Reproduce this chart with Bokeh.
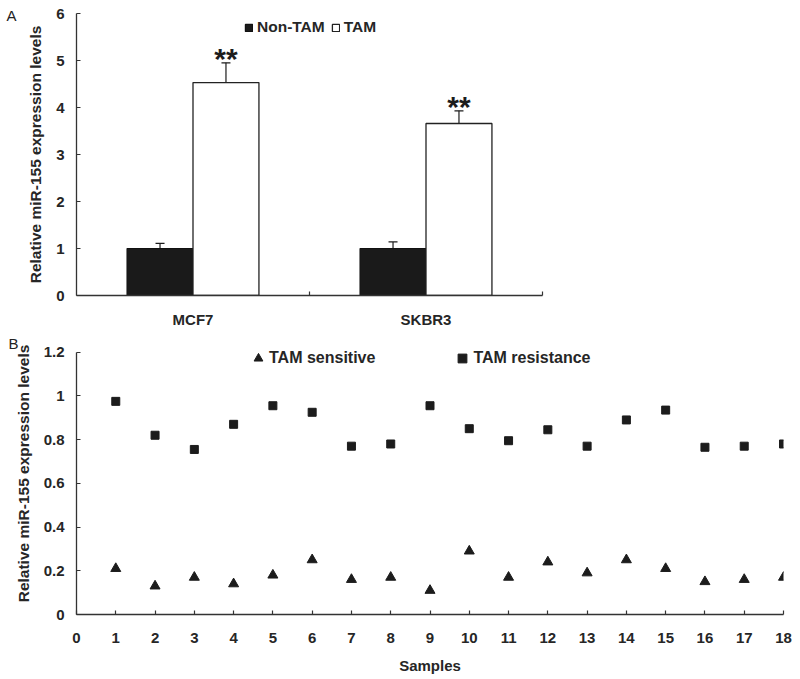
from bokeh.plotting import figure
from bokeh.models import (Range1d, FixedTicker, Whisker, TeeHead, ColumnDataSource,
                          Legend, LegendItem, NumeralTickFormatter, LinearAxis)
from bokeh.layouts import column
from bokeh.embed import file_html
from bokeh.resources import INLINE
from bokeh.core.properties import value

# ---------------- data: panel A ----------------
cell_lines = ["MCF7", "SKBR3"]
non_tam_mean = [1.00, 1.00]
non_tam_err = [0.11, 0.14]
tam_mean = [4.53, 3.66]
tam_err = [0.42, 0.27]
significance = ["**", "**"]
y_ticks_a = [0, 1, 2, 3, 4, 5, 6]

# ---------------- data: panel B ----------------
samples = list(range(1, 19))
tam_sensitive = [0.21, 0.13, 0.17, 0.14, 0.18, 0.25, 0.16, 0.17, 0.11,
                 0.29, 0.17, 0.24, 0.19, 0.25, 0.21, 0.15, 0.16, 0.17]
tam_resistance = [0.975, 0.82, 0.755, 0.87, 0.955, 0.925, 0.77, 0.78, 0.955,
                  0.85, 0.795, 0.845, 0.77, 0.89, 0.935, 0.765, 0.77, 0.78]
x_ticks_b = list(range(0, 19))
y_ticks_b = [0, 0.2, 0.4, 0.6, 0.8, 1.0, 1.2]

panel_letters = ["A", "B"]

FONT = "Liberation Sans"
INK = "#1c1c1c"
AXC = "#333333"
YLABEL = "Relative miR-155 expression levels"

BAR_W = 0.283
OFFSET = 0.1415


def style_axis(ax):
    ax.axis_line_color = AXC
    ax.axis_line_width = 1.3
    ax.major_tick_line_color = AXC
    ax.minor_tick_line_color = AXC
    ax.major_tick_line_width = 1.2
    ax.minor_tick_line_width = 1.2
    ax.major_label_text_font = FONT
    ax.major_label_text_font_style = "bold"
    ax.major_label_text_font_size = "15px"
    ax.major_label_text_color = "#262626"
    ax.axis_label_text_font = FONT
    ax.axis_label_text_font_style = "bold"
    ax.axis_label_text_font_size = "15.5px"
    ax.axis_label_text_color = "#262626"
    ax.major_tick_in = 4
    ax.major_tick_out = 0
    ax.minor_tick_in = 0
    ax.minor_tick_out = 0


def style_fig(p):
    for ax in (p.xaxis + p.yaxis):
        style_axis(ax)
    p.grid.visible = False
    p.outline_line_color = None
    p.background_fill_color = "white"
    p.border_fill_color = "white"
    p.frame_align = False


def letter_axis(p, y, letter, standoff):
    ax = LinearAxis(ticker=FixedTicker(ticks=[y]), major_label_overrides={y: letter},
                    axis_line_color=None, major_tick_line_color=None,
                    minor_tick_line_color=None, major_tick_in=0, major_tick_out=0,
                    minor_tick_in=0, minor_tick_out=0,
                    major_label_text_font=FONT, major_label_text_font_size="15px",
                    major_label_text_color="#222222", major_label_standoff=standoff)
    p.add_layout(ax, "left")


# ================= Panel A =================
pA = figure(width=800, height=330, output_backend="svg", toolbar_location=None,
            x_range=Range1d(0, 2), y_range=Range1d(0, 6),
            min_border_left=76, min_border_right=258, min_border_top=13, min_border_bottom=35)
style_fig(pA)

centers = [i + 0.5 for i in range(len(cell_lines))]
srcA = ColumnDataSource(dict(
    x_non=[c - OFFSET for c in centers],
    x_tam=[c + OFFSET for c in centers],
    non=non_tam_mean,
    non_up=[m + e for m, e in zip(non_tam_mean, non_tam_err)],
    tam=tam_mean,
    tam_up=[m + e for m, e in zip(tam_mean, tam_err)],
    sig=significance,
))

r_non = pA.vbar(x="x_non", top="non", bottom=0, width=BAR_W, source=srcA,
                fill_color="#1a1a1a", line_color="#111111", line_width=1.2)
r_tam = pA.vbar(x="x_tam", top="tam", bottom=0, width=BAR_W, source=srcA,
                fill_color="white", line_color="#222222", line_width=1.3)

for base, lo, hi in (("x_non", "non", "non_up"), ("x_tam", "tam", "tam_up")):
    pA.add_layout(Whisker(source=srcA, base=base, lower=lo, upper=hi, dimension="height",
                          lower_head=None,
                          upper_head=TeeHead(size=9, line_color=INK, line_width=1.2),
                          line_color=INK, line_width=1.2))

pA.text(x="x_tam", y="tam_up", text="sig", source=srcA, text_align="center",
        text_baseline="alphabetic", y_offset=-4, text_font=value(FONT),
        text_font_size="30px", text_font_style="bold", text_color=INK)

pA.xaxis.ticker = FixedTicker(ticks=centers, minor_ticks=[1, 2])
pA.xaxis.major_label_overrides = {c: name for c, name in zip(centers, cell_lines)}
pA.xaxis.major_tick_in = 0
pA.xaxis.minor_tick_in = 4
pA.xaxis.major_label_standoff = 15
yaxA = pA.yaxis[0]
yaxA.ticker = FixedTicker(ticks=y_ticks_a)
yaxA.major_label_standoff = 12
yaxA.axis_label = YLABEL
yaxA.axis_label_standoff = 9

legA = Legend(items=[LegendItem(label="Non-TAM", renderers=[r_non]),
                     LegendItem(label="TAM", renderers=[r_tam])],
              orientation="horizontal", location=(168, 259),
              glyph_width=9, glyph_height=9, label_standoff=4, spacing=6,
              padding=0, margin=0, border_line_color=None, background_fill_alpha=0,
              label_text_font=FONT, label_text_font_style="bold",
              label_text_font_size="15.5px", label_text_color="#262626", label_height=9)
pA.add_layout(legA)
letter_axis(pA, 5.95, panel_letters[0], 8)

# ================= Panel B =================
pB = figure(width=800, height=349, output_backend="svg", toolbar_location=None,
            x_range=Range1d(0, 18), y_range=Range1d(0, 1.29),
            min_border_left=76, min_border_right=17, min_border_top=2, min_border_bottom=65)
style_fig(pB)

r_sens = pB.scatter(samples, tam_sensitive, marker="triangle", size=10,
                    fill_color=INK, line_color=INK)
r_res = pB.scatter(samples, tam_resistance, marker="square", size=8,
                   fill_color=INK, line_color=INK)

pB.xaxis.ticker = FixedTicker(ticks=x_ticks_b)
pB.xaxis.major_label_standoff = 18
pB.xaxis.axis_label = "Samples"
pB.xaxis.axis_label_standoff = 11
pB.xaxis.axis_label_text_font_size = "15px"
yaxB = pB.yaxis[0]
yaxB.ticker = FixedTicker(ticks=y_ticks_b)
yaxB.bounds = (y_ticks_b[0], y_ticks_b[-1])
yaxB.formatter = NumeralTickFormatter(format="0.[0]")
yaxB.major_label_standoff = 12
yaxB.axis_label = YLABEL
yaxB.axis_label_standoff = 9

legB = Legend(items=[LegendItem(label="TAM sensitive", renderers=[r_sens]),
                     LegendItem(label="TAM resistance", renderers=[r_res])],
              orientation="horizontal", location=(171, 245),
              glyph_width=22, glyph_height=22, label_standoff=0, spacing=76,
              padding=0, margin=0, border_line_color=None, background_fill_alpha=0,
              label_text_font=FONT, label_text_font_style="bold",
              label_text_font_size="16px", label_text_color="#262626")
pB.add_layout(legB)
letter_axis(pB, 1.283, panel_letters[1], -7)

layout = column(pA, pB, spacing=0)
open("out.html", "w").write(file_html(layout, INLINE))
